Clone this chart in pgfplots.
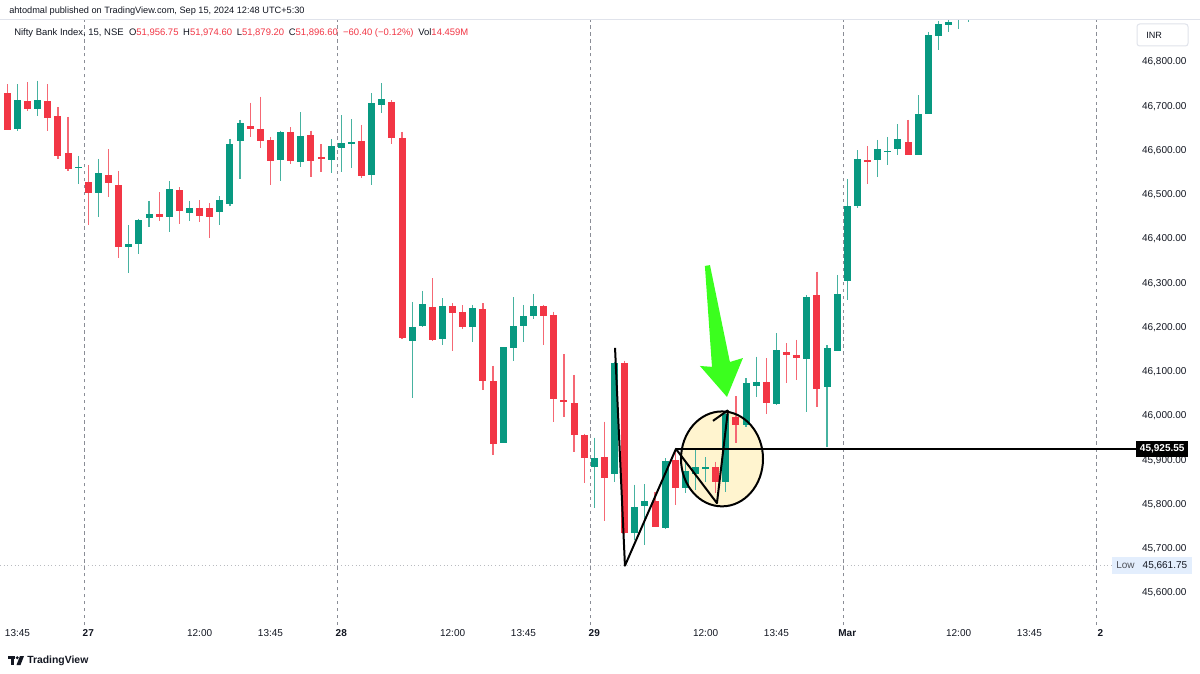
\documentclass[border=0pt]{standalone}
\usepackage{fontspec}
\setmainfont{Liberation Sans}
\usepackage{pgfplots}
\pgfplotsset{compat=1.18}
\usepackage{pgfplotstable}
\definecolor{tvgreen}{HTML}{089981}
\definecolor{tvred}{HTML}{F23645}
\definecolor{tvtext}{HTML}{131722}
\definecolor{tvgrid}{HTML}{8A8D96}
\definecolor{tvborder}{HTML}{E0E3EB}
\definecolor{tvyellow}{HTML}{FFF4CF}
\definecolor{tvarrow}{HTML}{3BFF1E}
\definecolor{tvlowbg}{HTML}{E3EEFD}

% rising (green) candles: index, open, high, low, close
\pgfplotstableread{
i o h l c
-7 46649 46750 46645 46714
-5 46694 46758 46679 46713
-1 46561 46588 46524 46563
1 46505 46581 46449 46548
4 46383 46431 46324 46388
5 46389 46446 46366 46444
6 46447 46486 46428 46457
8 46449 46531 46416 46512
10 46458 46486 46441 46471
13 46461 46497 46432 46488
14 46479 46626 46475 46615
15 46621 46669 46536 46663
19 46579 46645 46530 46642
21 46575 46686 46563 46633
24 46579 46625 46550 46610
25 46606 46680 46552 46616
26 46614 46671 46560 46619
28 46545 46729 46522 46707
29 46704 46752 46685 46716
32 46170 46258 46040 46200
33 46203 46283 46200 46254
35 46175 46266 46160 46249
38 46201 46251 46168 46245
41 45940 46155 45940 46155
42 46154 46268 46125 46203
43 46203 46251 46168 46225
44 46227 46276 46219 46249
50 45885 45951 45793 45904
52 45870 46122 45851 46119
54 45735 45845 45720 45795
55 45797 45846 45708 45809
57 45748 45904 45745 45899
59 45837 45899 45825 45876
60 45870 45927 45833 45884
61 45880 45907 45851 45885
63 45851 46012 45828 46004
65 45980 46085 45976 46074
66 46068 46134 46042 46077
68 46027 46187 46025 46148
71 46128 46273 46010 46268
73 46066 46160 45931 46153
74 46148 46319 46146 46275
75 46306 46536 46262 46475
76 46475 46601 46471 46581
78 46578 46624 46541 46603
79 46596 46631 46567 46600
80 46603 46659 46590 46625
82 46590 46725 46590 46683
83 46682 46868 46682 46861
84 46859 46893 46827 46885
85 46883 46897 46868 46891
86 46901 46930 46874 46919
87 46905 46940 46891 46920
}\upcandles

% falling (red) candles
\pgfplotstableread{
i o h l c
-8 46729 46750 46646 46646
-6 46712 46754 46690 46693
-4 46713 46750 46645 46674
-3 46679 46698 46581 46588
-2 46595 46676 46554 46558
0 46529 46567 46432 46505
2 46544 46603 46494 46526
3 46523 46554 46358 46382
7 46457 46506 46441 46449
9 46510 46517 46433 46463
11 46471 46488 46438 46452
12 46470 46481 46402 46450
16 46655 46708 46630 46649
17 46648 46722 46606 46622
18 46623 46631 46521 46577
20 46641 46653 46569 46577
22 46634 46645 46539 46576
23 46585 46614 46552 46583
27 46621 46658 46537 46543
30 46710 46714 46614 46628
31 46628 46642 46175 46177
34 46246 46311 46170 46172
36 46249 46255 46147 46232
37 46234 46250 46196 46201
39 46242 46255 46059 46080
40 46080 46113 45912 45937
45 46249 46251 46160 46227
46 46228 46236 45987 46039
47 46035 46139 45997 46033
48 46030 46093 45918 45957
49 45958 45960 45849 45906
51 45908 45987 45763 45861
53 46119 46125 45733 45735
56 45809 45829 45748 45750
58 45900 45923 45799 45837
62 45884 45897 45825 45851
64 45998 46045 45938 45980
67 46076 46130 46004 46030
69 46144 46164 46075 46139
70 46138 46172 46081 46130
72 46273 46326 46020 46060
77 46578 46610 46525 46575
81 46620 46669 46590 46590
}\downcandles

\begin{document}
\begin{tikzpicture}[font=\fontsize{7.5}{9}\selectfont, text=tvtext]
\path[use as bounding box, fill=white] (0,0) rectangle (900pt,-505.5pt);
\begin{axis}[
  at={(0pt,-15pt)}, anchor=north west,
  scale only axis, width=832.5pt, height=453.75pt,
  xmin=-8.725, xmax=100.96, ymin=45527.6, ymax=46894.9,
  clip mode=individual,
  axis line style={draw=none}, major tick length=0pt,
  scaled y ticks=false,
  xtick={-7,0,11,18,25,36,43,50,61,68,75,86,93,100},
  xticklabels={13:45,\textbf{27},12:00,13:45,\textbf{28},12:00,13:45,\textbf{29},12:00,13:45,\textbf{Mar},12:00,13:45,\textbf{2}},
  ytick={45600,45700,...,46800},
  yticklabel pos=right,
  ticklabel style={font=\fontsize{7.5}{9}\selectfont, text=tvtext},
  y tick label style={anchor=west, xshift=20.5pt,
    /pgf/number format/fixed, /pgf/number format/fixed zerofill,
    /pgf/number format/precision=2, /pgf/number format/1000 sep={,},
    /pgf/number format/assume math mode=true},
]
% day separators
\pgfplotsinvokeforeach{-0.42,24.58,49.58,74.58,99.62}{
  \draw[tvgrid, line width=0.75pt, dash pattern=on 2.6pt off 2.6pt] (axis cs:#1,45527.6) -- (axis cs:#1,46894.9);
}
% low level dotted line
\draw[tvgrid!60, line width=0.75pt, dotted] (axis cs:-8.725,45661.75) -- (axis cs:101.1,45661.75);
% highlight ellipse fill
\fill[tvyellow] (axis cs:62.62,45903) ellipse [x radius=30.75pt, y radius=35.6pt];

% wicks
\addplot[draw=none, mark=none, forget plot, error bars/.cd, y dir=minus, y explicit, error mark=none,
  error bar style={draw=tvgreen!75, line width=0.9pt}]
  table[x=i, y=h, y error minus expr=\thisrow{h}-\thisrow{l}] {\upcandles};
\addplot[draw=none, mark=none, forget plot, error bars/.cd, y dir=minus, y explicit, error mark=none,
  error bar style={draw=tvred!75, line width=0.9pt}]
  table[x=i, y=h, y error minus expr=\thisrow{h}-\thisrow{l}] {\downcandles};
% bodies
\addplot[draw=none, mark=none, forget plot, error bars/.cd, y dir=both, y explicit, error mark=none,
  error bar style={draw=tvgreen, line width=5.25pt}]
  table[x=i, y expr={(\thisrow{o}+\thisrow{c})/2}, y error expr={max(abs(\thisrow{o}-\thisrow{c})/2,1.2)}] {\upcandles};
\addplot[draw=none, mark=none, forget plot, error bars/.cd, y dir=both, y explicit, error mark=none,
  error bar style={draw=tvred, line width=5.25pt}]
  table[x=i, y expr={(\thisrow{o}+\thisrow{c})/2}, y error expr={max(abs(\thisrow{o}-\thisrow{c})/2,1.2)}] {\downcandles};

% drawings
\draw[black, line width=1.5pt] (axis cs:62.62,45903) ellipse [x radius=30.75pt, y radius=35.6pt];
\draw[black, line width=1.5pt, line join=round] (axis cs:52.05,46154) -- (axis cs:53.03,45661.75)
  -- (axis cs:58.07,45925.55) -- (axis cs:62.12,45803) -- (axis cs:63.21,46013);
\draw[black, line width=1.5pt] (axis cs:61.73,45989) -- (axis cs:63.21,46013);
\draw[black, line width=1.8pt] (axis cs:58.07,45925.55) -- (axis cs:103.5,45925.55);
\fill[tvarrow] (axis cs:60.93,46339) -- (axis cs:61.43,46341) -- (axis cs:63.40,46122) -- (axis cs:64.69,46131)
  -- (axis cs:63.11,46043) -- (axis cs:60.44,46113) -- (axis cs:61.63,46111) -- cycle;
% price labels
\node[fill=black, text=white, anchor=west, inner xsep=3pt, inner ysep=0pt, minimum height=12pt, font=\fontsize{7.5}{9}\selectfont\bfseries]
  at (axis cs:103.5,45925.55) {45,925.55};
\node[fill=tvlowbg, anchor=west, inner xsep=3.5pt, inner ysep=0pt, minimum height=12.5pt]
  at (axis cs:101.1,45661.75) {\textcolor{tvtext!75}{Low}\hspace{6pt}45,661.75};
\end{axis}

\begin{scope}[x=0.75pt, y=-0.75pt]
\draw[tvborder, line width=0.75pt] (0,20) -- (1200,20);
\draw[tvborder, line width=0.75pt, rounded corners=2pt] (1137,24) rectangle (1188,46);
\node[anchor=west, inner sep=0pt, font=\fontsize{6.8}{8}\selectfont] at (1146,35) {INR};
\node[anchor=base west, inner sep=0pt, font=\fontsize{6.9}{9}\selectfont] at (9,14)
  {ahtodmal published on TradingView.com, Sep 15, 2024 12:48 UTC+5:30};
\node[anchor=base west, inner sep=0pt, font=\fontsize{7.1}{9}\selectfont] at (14,36)
  {Nifty Bank Index, 15, NSE\hspace{4pt}O\textcolor{tvred}{51,956.75}\hspace{3.5pt}H\textcolor{tvred}{51,974.60}\hspace{3.5pt}L\textcolor{tvred}{51,879.20}\hspace{3.5pt}C\textcolor{tvred}{51,896.60}\hspace{4pt}\textcolor{tvred}{−60.40 (−0.12\%)}\hspace{3.5pt}Vol\textcolor{tvred}{14.459M}};
% TradingView logo
\fill[tvtext] (8,656) rectangle (15,659);
\fill[tvtext] (11,656) rectangle (14,665);
\fill[tvtext] (17.3,657.7) circle [radius=1.6];
\fill[tvtext] (20,656) -- (24,656) -- (20.5,665) -- (16.5,665) -- cycle;
\node[anchor=west, inner sep=0pt, font=\fontsize{7.8}{9}\selectfont\bfseries] at (27,660.5) {TradingView};
\end{scope}
\end{tikzpicture}
\end{document}
